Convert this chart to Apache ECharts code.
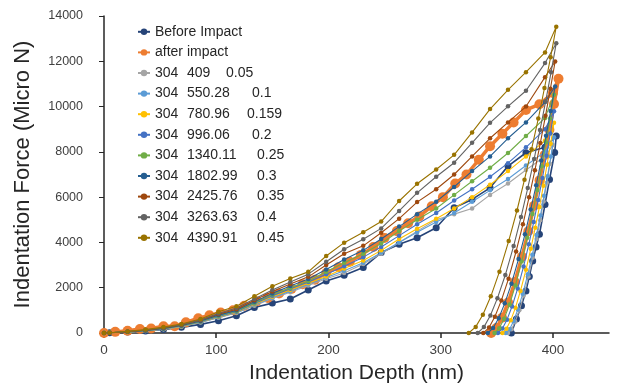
<!DOCTYPE html>
<html><head><meta charset="utf-8">
<script src="https://cdn.jsdelivr.net/npm/echarts@6/dist/echarts.min.js"></script>
<style>html,body{margin:0;padding:0;background:#fff}#c{width:619px;height:389px}</style>
</head><body><div id="c"></div><script>
// ---------- data ----------
const seriesNames = ['Before Impact','after impact','304  409    0.05','304  550.28    0.1','304  780.96    0.159','304  996.06    0.2','304  1340.11    0.25','304  1802.99    0.3','304  2425.76    0.35','304  3263.63    0.4','304  4390.91    0.45'];
const xTicks = [0,100,200,300,400];
const yTicks = [0,2000,4000,6000,8000,10000,12000,14000];

// shared loading depths (nm)
const loadDepth = [0,5,21,37,53,69,86,102,118,134,150,166,182,198,214,231,247,263,279,296,312,328,344,360,376,393];

const loadBefore = [0,10,40,90,160,250,380,540,760,1130,1320,1500,1900,2300,2550,2890,3550,3920,4210,4650,5530,5900,6410,7370,7960,8200];
const load409  = [0,10,40,90,170,280,460,670,880,1200,1520,1800,2100,2400,2650,3050,3500,4000,4500,5000,5250,5500,6100,6600,7200,7800];
const load550  = [0,10,40,90,170,290,470,690,900,1240,1560,1850,2150,2450,2750,3100,3550,4000,4450,4900,5300,5800,6300,6800,7400,8000];
const load780  = [0,10,40,100,180,300,490,710,920,1270,1600,1900,2200,2500,2850,3200,3650,4150,4600,5050,5500,6000,6550,7150,7800,8500];
const load996  = [0,10,50,100,190,310,500,730,940,1300,1650,1950,2250,2600,2950,3350,3800,4300,4800,5300,5850,6350,6900,7500,8200,9000];
const load1340 = [0,10,50,110,200,320,520,760,970,1340,1700,2000,2300,2700,3100,3500,3950,4500,5000,5500,6100,6700,7300,7950,8700,9500];
const load1802 = [0,10,50,110,200,330,530,790,1000,1380,1750,2080,2380,2800,3250,3650,4150,4700,5250,5800,6450,7150,7800,8600,9300,10200];
const load2425 = [0,10,60,120,220,350,560,830,1050,1450,1830,2160,2480,3000,3500,3850,4430,5050,5780,6350,7000,7800,8600,9300,10000,11300];
const load3263 = [0,10,60,130,230,370,580,860,1100,1500,1900,2250,2600,3150,3700,4140,4620,5390,6190,6900,7520,8400,9280,10010,10700,11920];
const load4390 = [0,10,70,150,260,400,620,940,1180,1620,2060,2410,2700,3400,3990,4450,4920,5830,6590,7220,7870,8860,9890,10740,11520,12390];

// after impact loading (its own depth grid)
const afterLoadDepth = [0,10,21,32,42,53,63,73,84,94,104,115,125,136,146,156,167,177,188,198,209,219,229,240,250,261,271,281,292,302,313,323,334,344,355,365,376,388,400];
const afterLoadForce = [0,50,100,180,200,300,300,470,650,780,900,1000,1200,1400,1550,1750,1950,2150,2350,2650,2900,3150,3450,3800,4200,4500,4850,5150,5600,6000,6600,7000,7650,8250,8800,9300,9850,10100,10600];

// unloading (depth, force) per series
const unDepthBefore = [403,401.6,397,393,388,385,382,379,376,372,367.5,363];
const unForceBefore = [8700,7970,6780,5680,4360,3800,3180,2500,1860,1200,620,0];
const unDepthAfter = [405,401,396.9,392.6,388.1,383.2,378.1,372.4,366.1,360.1,354.7,349.7,345];
const unForceAfter = [11230,10110,8980,7860,6740,5620,4490,3370,2250,1350,670,220,0];
const unDepth409 = [400,397.4,394.6,391.7,388.7,385.5,382,378.3,374,370.1,366.4,363.2,360];
const unForce409 = [8300,7470,6640,5810,4980,4150,3320,2490,1660,1000,500,170,0];
const unDepth550 = [401,398.2,395.2,392.1,388.9,385.4,381.7,377.7,373.1,368.8,364.9,361.4,358];
const unForce550 = [8650,7790,6920,6060,5190,4330,3460,2600,1730,1040,520,170,0];
const unDepth780 = [401,398,394.8,391.5,388,384.3,380.3,376,371.1,366.6,362.4,358.6,355];
const unForce780 = [9290,8360,7430,6500,5570,4650,3720,2790,1860,1110,560,190,0];
const unDepth996 = [401,397.7,394.3,390.7,386.9,382.9,378.6,373.9,368.6,363.6,359.1,355,351];
const unForce996 = [9790,8810,7830,6850,5870,4900,3920,2940,1960,1170,590,200,0];
const unDepth1340 = [401,397.5,393.8,390,386.1,381.8,377.2,372.2,366.6,361.4,356.5,352.2,348];
const unForce1340 = [10520,9470,8420,7360,6310,5260,4210,3160,2100,1260,630,210,0];
const unDepth1802 = [402,398,393.9,389.6,385.1,380.2,375.1,369.4,363.1,357.1,351.7,346.7,342];
const unForce1802 = [10890,9800,8710,7620,6530,5450,4360,3270,2180,1310,650,220,0];
const unDepth2425 = [402,397.8,393.4,388.8,384,378.8,373.3,367.2,360.5,354.1,348.3,343.1,338];
const unForce2425 = [11990,10790,9590,8390,7190,6000,4800,3600,2400,1440,720,240,0];
const unDepth3263 = [403,398.4,393.6,388.5,383.3,377.6,371.6,365,357.6,350.6,344.3,338.5,333];
const unForce3263 = [12800,11520,10240,8960,7680,6400,5120,3840,2560,1540,770,260,0];
const unDepth4390 = [403,398,392.5,387,381,374.7,368,360.6,352.4,344.7,337.6,331.2,325];
const unForce4390 = [13530,12180,10820,9470,8120,6770,5410,4060,2710,1620,810,270,0];

// ---------- build ----------
function pairs(xs, ys){ return xs.map((x,i)=>[x, ys[i]]); }
const seriesData = [
  pairs(loadDepth, loadBefore).concat(pairs(unDepthBefore, unForceBefore)),
  pairs(afterLoadDepth, afterLoadForce).concat(pairs(unDepthAfter, unForceAfter)),
  pairs(loadDepth, load409).concat(pairs(unDepth409, unForce409)),
  pairs(loadDepth, load550).concat(pairs(unDepth550, unForce550)),
  pairs(loadDepth, load780).concat(pairs(unDepth780, unForce780)),
  pairs(loadDepth, load996).concat(pairs(unDepth996, unForce996)),
  pairs(loadDepth, load1340).concat(pairs(unDepth1340, unForce1340)),
  pairs(loadDepth, load1802).concat(pairs(unDepth1802, unForce1802)),
  pairs(loadDepth, load2425).concat(pairs(unDepth2425, unForce2425)),
  pairs(loadDepth, load3263).concat(pairs(unDepth3263, unForce3263)),
  pairs(loadDepth, load4390).concat(pairs(unDepth4390, unForce4390))
];
const colors = ['#264478','#ED7D31','#A5A5A5','#5B9BD5','#FFC000','#4472C4','#70AD47','#255E91','#9E480E','#636363','#997300'];
const col2Style = {'409':'b1','550.28':'b2','780.96':'b3','996.06':'b2'};

const series = seriesNames.map((n,i)=>{
  const big = i===1, mid = i===0;
  return {
    name: n, type:'line', data: seriesData[i], symbol:'circle',
    symbolSize: big ? 10 : (mid ? 7 : 4.5),
    lineStyle:{width: big ? 3.5 : (mid ? 1.6 : 1.1), color: colors[i]},
    itemStyle:{color: colors[i]},
    z: 2 + i, animation:false
  };
});

const font = 'Liberation Sans';
const chart = echarts.init(document.getElementById('c'), null, {renderer:'canvas'});
chart.setOption({
  backgroundColor:'#fff',
  color: colors,
  grid:{left:104, right:10, top:16, bottom:55, containLabel:false},
  legend:{
    orient:'vertical', left:132, top:19, itemWidth:12, itemHeight:8, itemGap:5,
    data: seriesNames,
    formatter: function(name){
      const parts = name.trim().split(/\s+/);
      if (parts.length < 3) return name;
      const s = col2Style[parts[1]] || 'b4';
      return '{a|'+parts[0]+'}{'+s+'|'+parts[1]+'}{c|'+parts[2]+'}';
    },
    textStyle:{fontFamily:font, fontSize:14, color:'#262626', lineHeight:15.6,
      rich:{
        a:{fontFamily:font, fontSize:14, color:'#262626', width:32},
        b1:{fontFamily:font, fontSize:14, color:'#262626', width:39},
        b2:{fontFamily:font, fontSize:14, color:'#262626', width:65},
        b3:{fontFamily:font, fontSize:14, color:'#262626', width:60},
        b4:{fontFamily:font, fontSize:14, color:'#262626', width:70},
        c:{fontFamily:font, fontSize:14, color:'#262626'}
      }}
  },
  xAxis:{
    type:'value', min:0, max:450, interval:100,
    name:'Indentation Depth (nm)', nameLocation:'middle', nameGap:30,
    nameTextStyle:{fontFamily:font, fontSize:21, color:'#262626'},
    axisLine:{show:true, lineStyle:{color:'#262626', width:1.5}},
    axisTick:{show:true, inside:false, length:5, customValues:xTicks, lineStyle:{color:'#262626', width:1.5}},
    axisLabel:{fontFamily:font, fontSize:13.5, color:'#404040', margin:10, customValues:xTicks},
    splitLine:{show:false}
  },
  yAxis:{
    type:'value', min:0, max:14000, interval:2000,
    name:'Indentation Force (Micro N)', nameLocation:'middle', nameGap:70, nameRotate:90,
    nameTextStyle:{fontFamily:font, fontSize:22, color:'#262626'},
    axisLine:{show:true, lineStyle:{color:'#262626', width:1.5}},
    axisTick:{show:true, inside:false, length:5, customValues:yTicks, lineStyle:{color:'#262626', width:1}},
    axisLabel:{fontFamily:font, fontSize:12.5, color:'#404040', margin:21, customValues:yTicks,
      formatter: v => String(v)},
    splitLine:{show:false}
  },
  series: series
});
</script></body></html>
